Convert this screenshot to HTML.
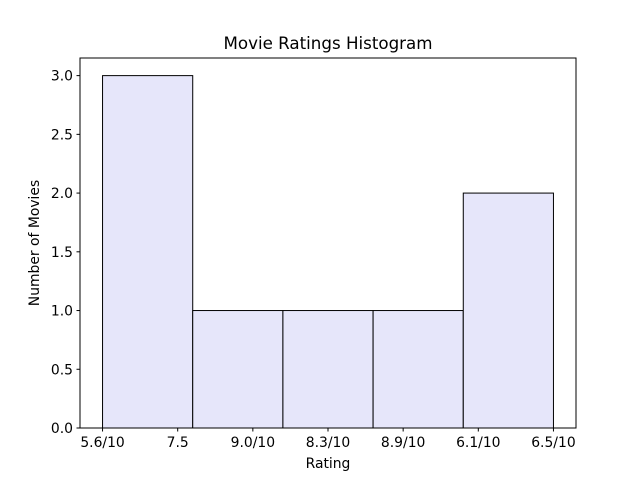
<!DOCTYPE html>
<html><head><meta charset="utf-8"><style>
body{margin:0;background:#fff;}
svg text{font-family:"DejaVu Sans","Liberation Sans",sans-serif;fill:#000;}
</style></head><body>
<svg id="chart" width="640" height="480">
<rect width="640" height="480" fill="#fff"/>
<g id="bars"></g>
<g id="axes"></g>
<text x="328" y="49" font-size="16.7" text-anchor="middle">Movie Ratings Histogram</text>
<text x="328" y="468" font-size="13.9" text-anchor="middle">Rating</text>
<text transform="translate(39,243) rotate(-90)" font-size="13.9" text-anchor="middle">Number of Movies</text>
</svg>
<script>
const tickLabels=["5.6/10","7.5","9.0/10","8.3/10","8.9/10","6.1/10","6.5/10"];
const binEdges=[0,1.2,2.4,3.6,4.8,6.0];
const counts=[3,1,1,1,2];
const yTicks=[0,0.5,1,1.5,2,2.5,3];
const L=80,R=576,T=58,B=428;
const xmin=-0.3,xmax=6.3,ymax=3.15;
const xs=v=>L+(v-xmin)/(xmax-xmin)*(R-L);
const ys=v=>B-v/ymax*(B-T);
const NS="http://www.w3.org/2000/svg";
const bars=document.getElementById('bars'),axes=document.getElementById('axes');
function mk(tag,attrs,parent){const e=document.createElementNS(NS,tag);for(const k in attrs)e.setAttribute(k,attrs[k]);parent.appendChild(e);return e;}
counts.forEach((c,i)=>{
 const x0=xs(binEdges[i]),x1=xs(binEdges[i+1]);
 const r=mk('rect',{x:x0,y:ys(c),width:x1-x0,height:B-ys(c),fill:'#e6e6fa',stroke:'#000','stroke-width':1},bars);
 
 
});
const frame=mk('rect',{x:L,y:T,width:R-L,height:B-T,fill:'none',stroke:'#000','stroke-width':1},axes);


tickLabels.forEach((t,i)=>{
 const x=xs(i);
 mk('line',{x1:x,x2:x,y1:B,y2:B+3.5,stroke:'#000'},axes);
 const tx=mk('text',{x:x,y:B+19,'font-size':13.9,'text-anchor':'middle'},axes);
 tx.textContent=t;
 
 
});
yTicks.forEach(v=>{
 const y=ys(v);
 mk('line',{x1:L-3.5,x2:L,y1:y,y2:y,stroke:'#000'},axes);
 const tx=mk('text',{x:L-7,y:y+5,'font-size':13.9,'text-anchor':'end'},axes);
 tx.textContent=v.toFixed(1);
 
 
});
</script>
</body></html>
